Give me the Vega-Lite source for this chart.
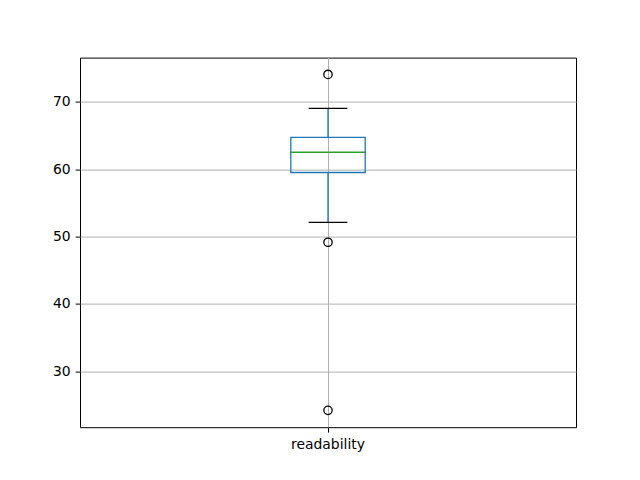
{
  "$schema": "https://vega.github.io/schema/vega-lite/v6.json",
  "width": 496,
  "height": 369.6,
  "autosize": {"type": "none"},
  "padding": {"left": 80, "top": 57.6, "right": 64, "bottom": 52.8},
  "background": "white",
  "config": {
    "view": {"stroke": "black", "strokeWidth": 1},
    "axis": {
      "labelFont": "DejaVu Sans",
      "labelFontSize": 13.9,
      "labelColor": "black",
      "tickColor": "black",
      "tickSize": 4.9,
      "tickWidth": 1,
      "labelPadding": 4.9,
      "domain": false,
      "grid": true,
      "gridColor": "#b0b0b0",
      "gridOpacity": 1,
      "gridWidth": 1,
      "title": null
    }
  },
  "datasets": {
    "stats": [
      {"var": "readability", "whislo": 52.1, "q1": 59.5, "med": 62.5, "q3": 64.7, "whishi": 69.0}
    ],
    "fliers": [
      {"var": "readability", "value": 74.05},
      {"var": "readability", "value": 49.15},
      {"var": "readability", "value": 24.2}
    ]
  },
  "encoding": {
    "x": {
      "field": "var",
      "type": "nominal",
      "scale": {"paddingInner": 0, "paddingOuter": 0.5},
      "axis": {"labelAngle": 0, "bandPosition": 0.5, "title": null}
    }
  },
  "layer": [
    {
      "data": {"name": "stats"},
      "mark": {"type": "rule", "color": "#1f77b4", "strokeWidth": 1.3},
      "encoding": {
        "y": {"field": "whislo", "type": "quantitative", "scale": {"domain": [21.7, 76.55], "nice": false, "zero": false}, "axis": {"values": [30, 40, 50, 60, 70], "title": null}},
        "y2": {"field": "q1"}
      }
    },
    {
      "data": {"name": "stats"},
      "mark": {"type": "rule", "color": "#1f77b4", "strokeWidth": 1.3},
      "encoding": {
        "y": {"field": "q3", "type": "quantitative"},
        "y2": {"field": "whishi"}
      }
    },
    {
      "data": {"name": "stats"},
      "mark": {"type": "bar", "size": 74.4, "fillOpacity": 0, "stroke": "#1f77b4", "strokeWidth": 1.3},
      "encoding": {
        "y": {"field": "q1", "type": "quantitative"},
        "y2": {"field": "q3"}
      }
    },
    {
      "data": {"name": "stats"},
      "mark": {"type": "tick", "color": "#2ca02c", "size": 74.4, "thickness": 1.3, "opacity": 1},
      "encoding": {
        "y": {"field": "med", "type": "quantitative"}
      }
    },
    {
      "data": {"name": "stats"},
      "mark": {"type": "tick", "color": "black", "size": 38.7, "thickness": 1.3, "opacity": 1},
      "encoding": {
        "y": {"field": "whislo", "type": "quantitative"}
      }
    },
    {
      "data": {"name": "stats"},
      "mark": {"type": "tick", "color": "black", "size": 38.7, "thickness": 1.3, "opacity": 1},
      "encoding": {
        "y": {"field": "whishi", "type": "quantitative"}
      }
    },
    {
      "data": {"name": "fliers"},
      "mark": {"type": "point", "shape": "circle", "filled": false, "color": "black", "size": 70, "strokeWidth": 1.3, "opacity": 1},
      "encoding": {
        "y": {"field": "value", "type": "quantitative"}
      }
    }
  ]
}
